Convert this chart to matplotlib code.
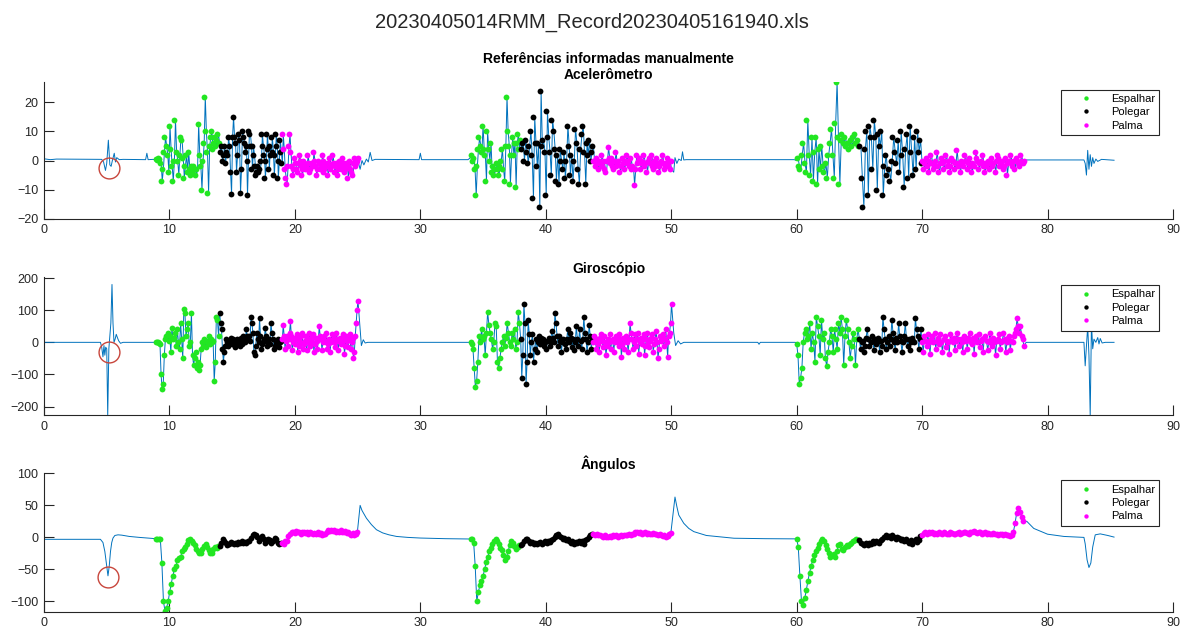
import numpy as np
import matplotlib.pyplot as plt

plt.rcParams['font.family'] = ['Liberation Sans', 'DejaVu Sans']

# limits of each repetition: start Espalhar, start Polegar, start Palma, end Palma (s)
rep_bounds = [(8.9, 14.0, 19.0, 25.1), (34.0, 38.0, 43.8, 50.1), (60.0, 65.0, 70.0, 78.2)]
labels = ['Espalhar', 'Polegar', 'Palma']
colors = ['#22e622', 'black', '#ff00ff']
xticks = [0, 10, 20, 30, 40, 50, 60, 70, 80, 90]

# red circles (manual reference)
circle_t = [5.15, 5.2, 5.1]
circle_y = [-2.4, -30, -62]

# ---------------- Acelerometro ----------------
acc_free_t = [0, 0.5, 1.0, 4.6, 4.75, 4.9, 5.0, 5.13, 5.25, 5.35, 5.45, 5.6, 5.7, 5.8, 6.0, 6.3, 8.1, 8.2, 8.3, 8.7,
              25.2, 25.35, 25.5, 25.7, 25.85, 26.0, 26.15, 26.4, 29.9, 30.0, 30.1, 33.8,
              50.2, 50.3, 50.45, 50.6, 50.8, 50.9, 51.0, 51.2, 59.8,
              78.3, 82.9, 83.0, 83.1, 83.2, 83.3, 83.4, 83.5, 83.6, 83.7, 83.85, 84.0, 84.3, 85.3]
acc_free_y = [0.6, 0.3, 0.5, 0.4, -0.5, -3.4, -1, 7, -1.5, -2, 0, 2.5, -0.5, 1, 0.3, 0.4, 0.3, 2.5, 0.3, 0.4,
              -3, 0, -1.5, 0.5, -0.5, 2.8, 0, 0.4, 0.3, 2.5, 0.3, 0.3,
              -4, 1, -1, 0.5, 0, 3, 0.2, 0.3, 0.3,
              0.2, 0.2, -1, -5, 3.5, -3, 2, -2, 1, -1, 0.5, -0.3, 0.4, 0.1, 0.2]

acc_esp = [
    [0.5, 0.3, 0.8, 0.5, -1, -7, -3, 3, 8, 5, 2, -4, 12, 4, -2, -7, 0, 14, 3, 0, -5, 2, 8, 7, 1, -6,
     -2, 2, -4, 3, -3, -5, -2, -4, -2, -3, -5, -3, 12.5, 2, -2, -10, 0, 6, 22, 10, 3, -11, 5, 8, 10,
     4, 6, 8, 5, 7, 9, 6],
    [2, 0, 1, -3, -12, -2, 4, 8, 5, 3, 12, 4, 2, -7, 10, 4, 0, 6, -4, -2, -5, -3, -1, -3, -5, -2, 0,
     4, -3, -7, 5, 22, 10, 5, -8, 2, 8, 2, 6, -9, 6, 9, 4, 7],
    [1, -2, -3, 2, 6, -1, -4, 14, 2, -5, 8, -7, 3, 8, -8, 4, -3, 5, -2, -4, -1, -6, 2, 6, 11, 2, -6,
     13, 27, 8, -8, 7, 9, 6, 8, 5, 6, 4, 7, 5, 8, 9, 6, 7, 5],
]
acc_pol = [
    [3, 5, 0, 2, 5, -1, 3, 2, 8, 5, -4, -11.5, 8, 15, 8, 6, -4, 2, 9, 7, -11, -3, 10, 8, 6, 3, 5,
     -12, 0, 10, 9, 5, -3, 5, 2, -2, -5, -4, -2, -4, -3, 0, 9, 5, 2, -6, 0, 9, 4, -3, 5, 2, 8, 3, -5,
     2, 9, 5, -6, 0, 7, 3, -1],
    [4, 6, 0, 7, 3, -1, 5, 10, 2, -13, 15, 6, -2, 6, -16, 24, 5, 7, 3, -12, 17, 8, 3, -5, 14, 10, 4,
     -7, 2, -8, 4, 0, -3, 3, -6, 0, 12, 5, -5, 2, -7, 0, 11, 6, -3, -8, 4, 9, 12, 3, -8, 6, 2, 7, 0,
     3, 5],
    [5, -6, -16, 4, 10, -12, 12, 8, -3, 14, 8, -10, 9, 5, 10, -12, -2, 2, -5, -3, -7, 0, 8, 3, -1, 7,
     -4, 10, 2, -9, 4, 9, -6, 12, 3, -5, 8, -3, 10, 3, 7, -1],
]
acc_pal = [
    [9, 4, -3, -6, -8, -2, 5, 9, 3, -2, -5, -3, 1, -1, -3, -4, -1, 2, 0, -2, -5, -3, 0, -1, -3, -2,
     2, -1, -4, -3, -1, -2, 3, 0, -2, -5, -3, 0, -1, -3, -2, 2, 0, -4, -3, -1, -2, -5, -1, 1, -3, -2,
     2, -1, -4, -2, -1, -5, -3, 0, -2, -3, 1, -1, -4, -2, -3, -1, -6, -2, 0, -3, -4, -5, -1, 1, -2,
     -1, 0, 1],
    [0, -2, 1, -1, -3, 0, -1, 2, -2, 0, -3, -4, 0, 4.5, 1, -1, 1, -2, -3, 0, 3, -2, -1, 0, -4, -2, 1,
     -1, -3, 0, 2, -1, 0, -2, 1, -3, -2, -8.5, -3, 2, -1, 0, 1, -3, -1, 0, 2, -2, -1, -4, 0, 1, -1,
     2, -2, -3, 0, -2, 1, -1, -4, -2, 0, 2, -1, -3, -2, -1, 1, -2, 0, -3, 0],
    [0, -3, -1, 1, -2, -4, 0, 2, -1, -3, -2, 0, 3, -2, -4, -1, 1, -1, -3, 0, 2, -2, 0, -4, -2, 1, 0,
     -3, -1, 3.5, -1, -2, -4, 0, -1, -2, 2, 0, -3, -1, 1, -2, -4, -1, -2, 3, 1, 0, -3, -1, 0, 2, -2,
     -4, -1, -2, 0, -3, -1, 1, -2, -1, -4, 0, 2, 1, -2, -1, 0, -3, -2, 1, -5, -1, 0, 2, -1, -2, 0,
     -3, 1, 0, -1, -2, 2, 0, -1, 0],
]

# ---------------- Giroscopio ----------------
gyr_free_t = [0, 4.5, 4.6, 4.7, 4.78, 4.85, 4.92, 5.0, 5.08, 5.17, 5.25, 5.33, 5.42, 5.5, 5.58, 5.67, 5.76, 5.85,
              5.95, 6.1, 6.3, 8.8,
              25.2, 25.3, 25.45, 25.6, 25.8, 33.9,
              50.2, 50.35, 50.55, 50.75, 51.0, 56.9, 57.0, 57.1, 59.9,
              78.3, 78.45, 82.9, 83.0, 83.1, 83.2, 83.3, 83.4, 83.5, 83.6, 83.7, 83.85, 84.0, 84.1, 84.2,
              84.35, 84.6, 85.3]
gyr_free_y = [0, 0, -15, -45, -10, -40, -15, -20, -228, -20, 20, 60, 180, 60, 0, 10, 25, 15,
              5, -3, 0, 0,
              40, -10, 8, -2, 0, 0,
              30, -10, 5, -5, 0, 0, -6, 0, 0,
              0, 0, 0, -73, -10, 50, -40, -228, 60, -20, 10, 0, 15, -5, 12,
              -2, 0, 0]

gyr_esp = [
    [0, 0, 0, -2, -5, -100, -145, -130, -40, 10, 20, 30, 5, 20, -30, 45, 10, 15, 30, -10, 40, 0, -20,
     60, 10, -50, 105, 90, 20, 40, 60, -10, 0, 90, -40, -70, -50, -30, -80, -60, -85, -70, -20, 0,
     -10, 10, -15, 0, 5, 20, -5, 10, 0, 5, -120, -60, 80, 70, 20],
    [0, -5, -20, -80, -140, -120, -60, 20, 0, 40, 10, 20, -40, 30, 95, 55, 30, 10, -20, 0, 60, 50,
     -60, -80, -50, -20, 0, 20, -10, 15, 60, 30, 0, -10, 30, 10, 40, -20, 0, 95, 60],
    [-5, -40, -130, -110, -80, 0, 30, 40, 10, 20, 60, -20, 30, 0, -60, 80, 50, 20, -40, 70, 10, 30,
     -50, -75, -30, 0, 40, 20, -30, 40, 10, -20, 60, 30, 80, 40, -70, 20, 70, 40, 0, -50, -10, 30,
     10, -70, 10, 40],
]
gyr_pol = [
    [90, 60, 40, -20, -60, -30, -10, 10, 0, -10, 5, 0, 15, -5, 10, 5, -15, 0, 10, -5, 0, -10, 5, 15,
     -5, 20, 10, 0, 40, 20, 10, 20, 5, 80, 60, 30, -30, -40, -10, 30, 10, 0, 75, 20, -20, -5, 0, 10,
     45, 20, -10, 0, 10, -5, 60, 30, 10, -20, -10, 0, -10, 10, 5, -15, 0, 5],
    [10, -110, -40, 120, 60, -130, -60, 70, 25, -40, 0, 25, -60, -20, 10, -30, 0, 20, -5, 15, 0, 10,
     -10, 0, -20, 5, 15, -10, 0, 35, 15, 0, 90, 60, 20, -10, 20, 5, -30, 0, 10, -5, -20, 10, 40, 0,
     30, 15, -15, 10, -25, 0, 50, 10, -10, 40, 5, -20, 10, 80, 30, 10, -30, 0, 55, 20, -20, 10],
    [10, -20, 0, 5, -30, -10, 15, 40, 10, -10, 0, 20, 5, -25, 10, -5, 0, 15, -30, 5, -10, 80, 40, 10,
     -20, 0, 20, -10, 10, 70, 30, 0, -25, 15, 0, 60, 20, 5, -30, 0, 20, 60, 10, -10, 10, -25, 0, 15,
     5, 0, 75, 40, 20, -20, 10, 40],
]
gyr_pal = [
    [10, 55, 20, -20, 5, 20, -10, 10, 30, 65, 20, -25, 0, 15, -5, 10, 25, -30, -10, 10, 0, 20, 30,
     -20, -5, 5, 20, -25, 0, 10, 30, -10, 15, 0, 25, -30, -5, 15, 5, -20, 10, 50, 20, 10, -25, 0, 20,
     5, 0, 30, -20, -5, 10, -30, 0, 25, 5, 15, -15, 0, 30, 10, -25, 5, 15, -5, 0, 25, 10, -35, -10,
     20, 5, -15, 10, 25, -20, 0, 15, -50, -30, 20, 60, 100, 130],
    [0, 20, 5, -20, 10, -5, -30, 15, 25, 5, -15, 20, 0, -40, -10, 10, 0, 25, -20, 5, 10, -30, 0, 20,
     5, 0, -10, 25, 10, -45, -5, 15, -20, 5, 20, 0, -30, 10, 60, 30, 10, -20, 0, 25, -10, 10, 30, -35,
     0, 15, -5, 10, 25, -40, -10, 10, 30, 0, -15, 5, 15, 25, -30, -5, 10, 35, 0, -50, -20, 20, 5, 15,
     25, -10, 10, 40, 0, -45, 20, 30, 60, 120],
    [0, -30, 20, 5, -10, 25, 0, -35, 10, 20, 0, 30, -20, 5, 15, -5, 25, 0, -30, 10, 20, -15, 5, 0,
     -35, 25, 10, 0, 15, -25, 5, 30, 10, -10, 10, 0, -30, 20, 10, 5, -20, 15, 30, 0, -5, 15, -35, 10,
     20, 0, 25, -15, 5, 10, -30, 15, 20, 5, -25, 0, 30, 10, -10, 15, 0, -40, 5, 10, 25, -20, 0, 5,
     30, 10, -30, 0, 15, 20, -25, 5, 0, 20, 30, 40, 75, 50, 30, 50, 20, 10, -10],
]

# ---------------- Angulos ----------------
ang_free_t = [0, 4.5, 4.7, 4.85, 5.0, 5.1, 5.2, 5.3, 5.4, 5.5, 5.65, 5.9, 6.2, 6.8, 7.6, 8.5, 8.85,
              25.2, 25.35, 25.7, 26.1, 26.5, 27.0, 27.5, 28.1, 29.0, 30.0, 32.0, 33.95,
              50.3, 50.45, 50.6, 51.0, 51.4, 51.8, 52.8, 55.0, 57.5, 59.95,
              78.35, 78.9, 79.5, 80.0, 81.3, 82.9, 83.0, 83.15, 83.3, 83.45, 83.6, 83.8, 84.2, 84.8, 85.3]
ang_free_y = [-3, -3, -8, -22, -45, -60, -45, -22, -8, -1, 3, 4, 3.5, 1.5, 0, -1.5, -2,
              50, 42, 30, 20, 12, 7, 4, 1.5, 0, -1, -2, -2.5,
              63, 48, 35, 22, 14, 9, 3, -1.3, -2, -2.3,
              25, 14, 9, 5, 1.5, 0, -10, -35, -47, -40, -15, 4, 5.5, 3, 0.5]

ang_esp = [
    [-2, -2, -2, -3, -40, -100, -115, -110, -100, -85, -72, -60, -50, -45, -36, -32, -30, -22, -18,
     -15, -10, -4, -2, -5, -8, -12, -18, -22, -25, -24, -18, -13, -10, -15, -20, -24, -25, -18, -15,
     -17, -14],
    [-2, -3, -8, -45, -100, -85, -75, -68, -60, -50, -38, -30, -22, -16, -10, -6, -3, -6, -10, -16,
     -20, -28, -35, -30, -22, -12, -5, -8, -14, -18, -15, -12],
    [-2, -15, -60, -100, -105, -95, -82, -68, -55, -45, -35, -28, -22, -16, -10, -5, -2, -6, -12, -18,
     -24, -30, -28, -26, -30, -22, -12, -10, -18, -20, -15, -12, -14, -10, -8, -6, -4, -3, -4],
]
ang_pol = [
    [-14, -8, -2, -5, -9, -12, -10, -7, -9, -11, -8, -10, -7, -8, -6, -9, -7, -8, -5, -6, -1, 3, 5, 4,
     0, -5, -2, 2, -3, -8, -6, -2, -4, -8, -5, -1, -3, -9, -10, -8],
    [-12, -10, -5, -3, -2, -6, -9, -7, -10, -8, -11, -9, -7, -10, -8, -6, -8, -5, -7, -4, -3, 0, 3, 5,
     2, 0, -3, -1, -4, -2, -6, -8, -5, -10, -7, -9, -5, -8, -6, -10, -4, -2, 1, 4, 6],
    [-4, -8, -10, -12, -9, -12, -8, -10, -6, -8, -5, -7, -9, -4, -2, 1, 3, 0, 2, -1, 3, 0, -2, 1, -1,
     -4, -2, -5, -3, -6, -8, -4, -10, -6, -3, -7, -4, 2],
]
ang_pal = [
    [-8, -10, -6, -5, 2, 6, 8, 9, 7, 10, 8, 9, 6, 8, 9, 7, 8, 6, 8, 7, 5, 7, 6, 8, 5, 7, 4, 6, 5, 9,
     11, 10, 12, 10, 11, 9, 10, 8, 11, 9, 8, 10, 7, 9, 6, 4, 7, 3, 6, 8],
    [6, 4, 6, 3, 4, 2, 1, 3, 0, 1, 2, 0, 3, 2, 3, 1, 2, 4, 2, 3, 4, 3, 5, 4, 5, 6, 8, 9, 7, 8, 6, 7, 8,
     6, 7, 5, 6, 7, 5, 6, 4, 5, 3, 2, 4, 0, 2, 5, 7],
    [4, 7, 8, 6, 9, 7, 8, 6, 7, 5, 8, 7, 6, 8, 7, 5, 6, 8, 7, 6, 5, 7, 8, 6, 7, 9, 8, 7, 6, 8, 9, 10,
     8, 7, 9, 8, 6, 7, 8, 6, 7, 5, 6, 7, 5, 6, 4, 5, 6, 4, 5, 3, 4, 2, 3, 8, 22, 38, 46, 40, 32, 25],
]


def draw_panel(ax, free_t, free_y, esp, pol, pal, title, ylim, yticks, k, pad):
    all_t = list(free_t)
    all_y = list(free_y)
    mark_t = [[], [], []]
    mark_y = [[], [], []]
    for r, (a, b, c, d) in enumerate(rep_bounds):
        for j, (vals, t0, t1) in enumerate(((esp[r], a, b), (pol[r], b, c), (pal[r], c, d))):
            tt = np.linspace(t0, t1, len(vals), endpoint=False)
            all_t += list(tt)
            all_y += list(vals)
            mark_t[j] += list(tt)
            mark_y[j] += list(vals)
    order = np.argsort(all_t)
    ax.plot(np.array(all_t)[order], np.array(all_y)[order], color='#0072BD', linewidth=0.7)
    for j in range(3):
        ax.plot(mark_t[j], mark_y[j], linestyle='none', marker='o', markersize=4.2,
                markeredgewidth=0, color=colors[j], label=labels[j])
    ax.plot(circle_t[k], circle_y[k], marker='o', markersize=15, markerfacecolor='none',
            markeredgecolor='#c8463c', markeredgewidth=1)

    ax.set_xlim(0, 90)
    ax.set_ylim(*ylim)
    ax.set_xticks(xticks)
    ax.set_yticks(yticks)
    for s in ['top', 'right']:
        ax.spines[s].set_visible(False)
    for s in ['left', 'bottom']:
        ax.spines[s].set_color('#262626')
        ax.spines[s].set_linewidth(0.8)
    ax.tick_params(direction='in', length=7.2, width=0.8, colors='#262626', labelsize=9)
    ax.tick_params(axis='x', pad=4)
    ax.tick_params(axis='y', pad=4)
    ax.set_title(title, fontsize=10, fontweight='bold', pad=pad, linespacing=1.2)
    leg = ax.legend(loc='upper right', bbox_to_anchor=(0.988, 0.945), fontsize=8, frameon=True,
                    fancybox=False, edgecolor='#262626', framealpha=1, borderaxespad=0,
                    handlelength=3.7, handletextpad=0.4, borderpad=0.4, labelspacing=0.3,
                    markerscale=0.75)
    leg.get_frame().set_linewidth(0.8)


fig = plt.figure(figsize=(11.83, 6.32), dpi=100)
W, H = 1183.0, 632.0
left = 44 / W
width = (1173 - 44) / W
ax1 = fig.add_axes([left, 1 - 218.7 / H, width, 136.7 / H])
ax2 = fig.add_axes([left, 1 - 415.0 / H, width, 137.6 / H])
ax3 = fig.add_axes([left, 1 - 611.7 / H, width, 139.0 / H])

draw_panel(ax1, acc_free_t, acc_free_y, acc_esp, acc_pol, acc_pal,
           'Referências informadas manualmente\nAcelerômetro', (-20, 27), [-20, -10, 0, 10, 20], 0, -1)
draw_panel(ax2, gyr_free_t, gyr_free_y, gyr_esp, gyr_pol, gyr_pal,
           'Giroscópio', (-226, 202), [-200, -100, 0, 100, 200], 1, 3)
draw_panel(ax3, ang_free_t, ang_free_y, ang_esp, ang_pol, ang_pal,
           'Ângulos', (-116, 101), [-100, -50, 0, 50, 100], 2, 3)

fig.text(0.5, 1 - 22 / H, '20230405014RMM_Record20230405161940.xls', ha='center', va='center',
         fontsize=14.5, color='#262626')

fig.savefig('out.png', dpi=100)
